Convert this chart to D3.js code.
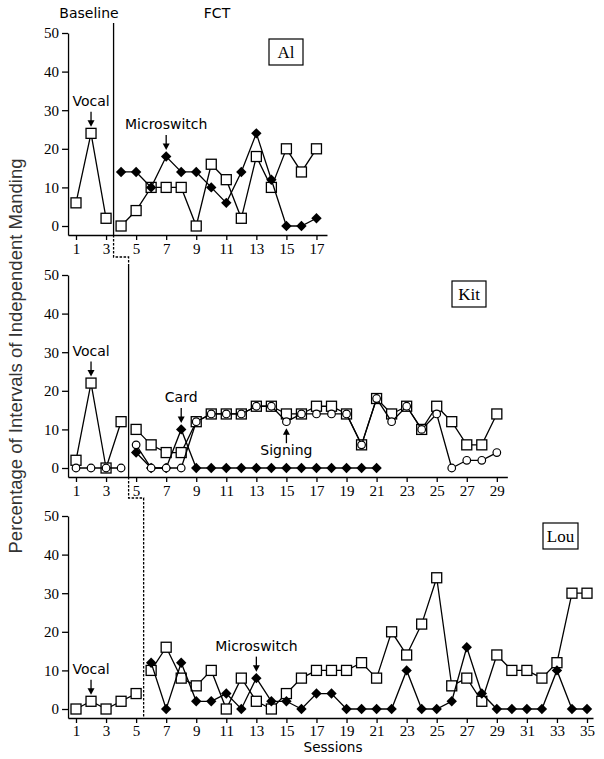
<!DOCTYPE html>
<html>
<head>
<meta charset="utf-8">
<script src="https://cdn.jsdelivr.net/npm/d3@7"></script>
<style>
  body { margin: 0; background: #fff; }
  svg { display: block; }
</style>
</head>
<body>
<svg width="604" height="759"></svg>
<script>
// ---- data (percentage of intervals) ----
// Al: baseline sessions 1-3, FCT sessions 4-17
const alBaseSquares = [6, 24, 2];
const alFctSquares = [0, 4, 10, 10, 10, 0, 16, 12, 2, 18, 10, 20, 14, 20];
const alFctDiamonds = [14, 14, 10, 18, 14, 14, 10, 6, 14, 24, 12, 0, 0, 2];

// Kit: baseline sessions 1-4, FCT sessions 5-29 (diamonds stop at 21)
const kitBaseSquares = [2, 22, 0, 12];
const kitBaseCircles = [0, 0, 0, 0];
const kitFctSquares = [10, 6, 4, 4, 12, 14, 14, 14, 16, 16, 14, 14, 16, 16, 14, 6, 18, 14, 16, 10, 16, 12, 6, 6, 14];
const kitFctCircles = [6, 0, 0, 0, 12, 14, 14, 14, 16, 16, 12, 14, 14, 14, 14, 6, 18, 12, 16, 10, 14, 0, 2, 2, 4];
const kitFctDiamonds = [4, 0, 0, 10, 0, 0, 0, 0, 0, 0, 0, 0, 0, 0, 0, 0, 0];

// Lou: baseline sessions 1-5, FCT sessions 6-35
const louBaseSquares = [0, 2, 0, 2, 4];
const louFctSquares = [10, 16, 8, 6, 10, 0, 8, 2, 0, 4, 8, 10, 10, 10, 12, 8, 20, 14, 22, 34, 6, 8, 2, 14, 10, 10, 8, 12, 30, 30];
const louFctDiamonds = [12, 0, 12, 2, 2, 4, 0, 8, 2, 2, 0, 4, 4, 0, 0, 0, 0, 10, 0, 0, 2, 16, 4, 0, 0, 0, 0, 10, 0, 0];

const yTicks = [0, 10, 20, 30, 40, 50];
const phaseChanges = [3.5, 4.5, 5.5];   // between last baseline and first FCT session
const lastSession = [17, 29, 35];

const svg = d3.select('svg');
const serif = '"Liberation Serif", "Times New Roman", serif';
const sans = '"DejaVu Sans", Verdana, sans-serif';

// one session -> x mapping shared by the three panels
const x = d3.scaleLinear().domain([1, 35]).range([76, 587]);

const panels = [
  { name: 'Al', top: 33, xEnd: 17.7, phase: phaseChanges[0], last: lastSession[0], box: [269, 39, 34, 26], pad: 3,
    series: [
      { type: 'square', start: 1, values: alBaseSquares },
      { type: 'square', start: 4, values: alFctSquares },
      { type: 'diamond', start: 4, values: alFctDiamonds }
    ],
    notes: [
      { text: 'Vocal', s: 2, v: 24, dir: 1 },
      { text: 'Microswitch', s: 7, v: 18, dir: 1 }
    ] },
  { name: 'Kit', top: 275, xEnd: 29.7, phase: phaseChanges[1], last: lastSession[1], box: [452, 281, 34, 26], pad: 3,
    series: [
      { type: 'square', start: 1, values: kitBaseSquares },
      { type: 'square', start: 5, values: kitFctSquares },
      { type: 'diamond', start: 5, values: kitFctDiamonds },
      { type: 'circle', start: 1, values: kitBaseCircles },
      { type: 'circle', start: 5, values: kitFctCircles }
    ],
    notes: [
      { text: 'Vocal', s: 2, v: 22, dir: 1 },
      { text: 'Card', s: 8, v: 10, dir: 1 },
      { text: 'Signing', s: 15, v: 12, dir: -1 }
    ] },
  { name: 'Lou', top: 516, xEnd: 35.4, phase: phaseChanges[2], last: lastSession[2], box: [543, 523, 35, 26], pad: 2,
    series: [
      { type: 'square', start: 1, values: louBaseSquares },
      { type: 'square', start: 6, values: louFctSquares },
      { type: 'diamond', start: 6, values: louFctDiamonds }
    ],
    notes: [
      { text: 'Vocal', s: 2, v: 2, dir: 1 },
      { text: 'Microswitch', s: 13, v: 8, dir: 1 }
    ] }
];

const panelH = 202;   // from the 50 tick down to the x axis line

panels.forEach(function(p) {
  const g = svg.append('g');
  const bottom = p.top + panelH;
  const y = d3.scaleLinear().domain([-2.33, 50]).range([bottom, p.top]);
  p.bottom = bottom;

  const xp = x.copy().domain([0.47, p.xEnd]).range([x(0.47), x(p.xEnd)]);

  // y axis
  const ya = g.append('g')
    .attr('transform', 'translate(' + x(0.47) + ',0)')
    .call(d3.axisLeft(y).tickValues(yTicks).tickSize(6).tickSizeOuter(0).tickPadding(3));
  // x axis, odd sessions labelled
  const xa = g.append('g')
    .attr('transform', 'translate(0,' + bottom + ')')
    .call(d3.axisBottom(xp).tickValues(d3.range(1, p.last + 1, 2)).tickSize(5).tickSizeOuter(0).tickPadding(p.pad));

  [ya, xa].forEach(function(a) {
    a.selectAll('path, line').attr('stroke', '#000').attr('stroke-width', 1.3);
    a.selectAll('text').attr('font-family', serif).attr('font-size', 15).attr('fill', '#000');
  });

  // series
  p.series.forEach(function(s) {
    const pts = s.values.map((v, i) => [x(s.start + i), y(v)]);
    g.append('path')
      .attr('d', d3.line()(pts))
      .attr('fill', 'none')
      .attr('stroke', '#000')
      .attr('stroke-width', 1.3);

    const m = g.selectAll(null).data(pts);
    if (s.type === 'square') {
      m.enter().append('rect')
        .attr('x', d => d[0] - 5).attr('y', d => d[1] - 5)
        .attr('width', 10).attr('height', 10)
        .attr('fill', '#fff').attr('stroke', '#000').attr('stroke-width', 1.3);
    } else if (s.type === 'diamond') {
      m.enter().append('path')
        .attr('d', d => 'M' + d[0] + ',' + (d[1] - 5.2) + 'L' + (d[0] + 5.2) + ',' + d[1] +
                        'L' + d[0] + ',' + (d[1] + 5.2) + 'L' + (d[0] - 5.2) + ',' + d[1] + 'Z')
        .attr('fill', '#000');
    } else {
      m.enter().append('circle')
        .attr('cx', d => d[0]).attr('cy', d => d[1]).attr('r', 3.8)
        .attr('fill', '#fff').attr('stroke', '#000').attr('stroke-width', 1.2);
    }
  });

  // annotations with arrows
  p.notes.forEach(function(n) {
    const cx = x(n.s);
    const tip = n.dir > 0 ? y(n.v) - 6.5 : y(n.v) + 6.5;
    const tail = tip - n.dir * 15;
    g.append('line')
      .attr('x1', cx).attr('x2', cx)
      .attr('y1', tail).attr('y2', tip - n.dir * 5)
      .attr('stroke', '#000').attr('stroke-width', 1.3);
    g.append('path')
      .attr('d', 'M' + (cx - 3.5) + ',' + (tip - n.dir * 6.5) + 'L' + (cx + 3.5) + ',' + (tip - n.dir * 6.5) + 'L' + cx + ',' + tip + 'Z')
      .attr('fill', '#000');
    g.append('text')
      .attr('x', cx)
      .attr('y', n.dir > 0 ? tail - 6 : tail + 12)
      .attr('text-anchor', 'middle')
      .attr('font-family', sans).attr('font-size', 14)
      .text(n.text);
  });

  // participant label box
  g.append('rect')
    .attr('x', p.box[0]).attr('y', p.box[1]).attr('width', p.box[2]).attr('height', p.box[3])
    .attr('fill', '#fff').attr('stroke', '#000').attr('stroke-width', 1.2);
  g.append('text')
    .attr('x', p.box[0] + p.box[2] / 2).attr('y', p.box[1] + p.box[3] / 2 + 6)
    .attr('text-anchor', 'middle')
    .attr('font-family', serif).attr('font-size', 17)
    .text(p.name);
});

// phase change lines
const ph = phaseChanges.map(d => x(d));
const line1 = 'M' + ph[0] + ',23V' + panels[0].bottom;
const line2 = 'M' + ph[1] + ',265V' + panels[1].bottom;
svg.append('path').attr('d', line1 + line2)
  .attr('fill', 'none').attr('stroke', '#000').attr('stroke-width', 1.3);
const dashed = 'M' + ph[0] + ',' + panels[0].bottom + 'V257H' + ph[1] + 'V265' +
               'M' + ph[1] + ',' + panels[1].bottom + 'V498H' + ph[2] + 'V' + panels[2].bottom;
svg.append('path').attr('d', dashed)
  .attr('fill', 'none').attr('stroke', '#000').attr('stroke-width', 1.3)
  .attr('stroke-dasharray', '2.5,1.5');

// phase titles
svg.append('text').attr('x', 89).attr('y', 18).attr('text-anchor', 'middle')
  .attr('font-family', sans).attr('font-size', 14).text('Baseline');
svg.append('text').attr('x', 217).attr('y', 18).attr('text-anchor', 'middle')
  .attr('font-family', sans).attr('font-size', 14).text('FCT');

// axis titles
svg.append('text')
  .attr('transform', 'translate(22,356) rotate(-90)')
  .attr('text-anchor', 'middle')
  .attr('font-family', '"Liberation Sans", Arial, sans-serif')
  .attr('font-size', 18.5)
  .attr('fill', '#333')
  .text('Percentage of Intervals of Independent Manding');
svg.append('text').attr('x', 333).attr('y', 752).attr('text-anchor', 'middle')
  .attr('font-family', sans).attr('font-size', 13.6).text('Sessions');
</script>
</body>
</html>
